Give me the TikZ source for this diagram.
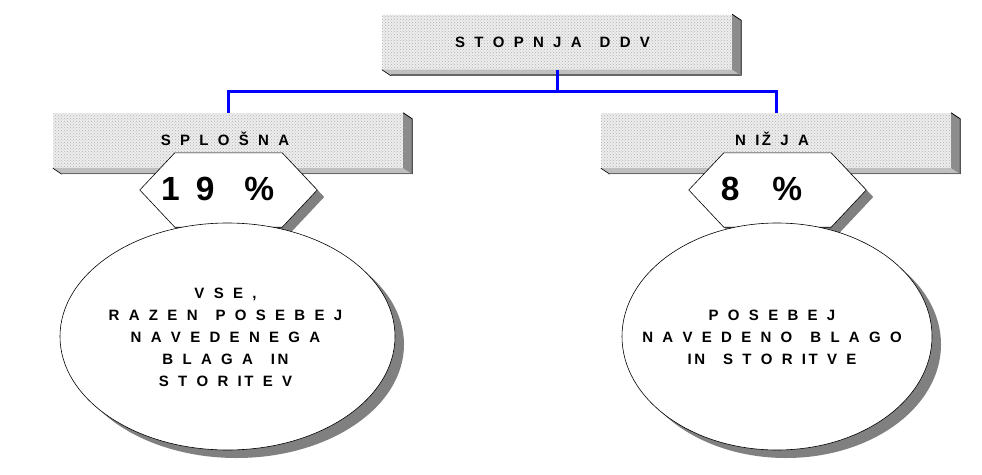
\documentclass[tikz,border=0pt]{standalone}
\usepackage{fontspec}
\setmainfont{Liberation Sans}
\usetikzlibrary{calc,shapes.geometric,shadows,patterns}
\definecolor{boxfill}{gray}{0.93}
\definecolor{linkblue}{RGB}{0,0,255}
\newcommand\wgap{\hspace{18pt}}
\newcommand\widespaces{\spaceskip=9.3pt\relax}
\newcommand\ik{\kern2.5pt}
\newcommand\bevelbox[1]{%
  \fill[black!25] (#1.south west) -- (#1.south east) -- ($(#1.south east)+(9,6)$) -- ($(#1.south west)+(9,6)$) -- cycle;
  \draw[black!60,line width=1.6pt] ($(#1.south west)+(9,5.2)$) -- ($(#1.south east)+(9,5.2)$);
  \draw[black,line width=0.6pt] (#1.south west) -- ($(#1.south west)+(9,6)$);
  \fill[black!45] (#1.north east) -- ($(#1.north east)+(9,6)$) -- ($(#1.south east)+(9,6)$) -- (#1.south east) -- cycle;
  \draw[black,line width=0.8pt] (#1.north east) -- ($(#1.north east)+(9,6)$) -- ($(#1.south east)+(9,6)$);
}
\tikzset{
  boxnode/.style={rectangle, fill=boxfill, draw=none, minimum width=350pt, minimum height=55pt, inner sep=0pt,
    postaction={pattern=crosshatch dots, pattern color=black!30}},
  label/.style={inner sep=0pt, text height=10.7pt, text depth=0pt,
    font=\bfseries\fontsize{15}{17}\selectfont\widespaces},
  hexbase/.style={rectangle, draw=none, minimum width=177pt, minimum height=74pt, inner sep=0pt},
  hexpath/.style n args={3}{insert path={($(#1.west)+(#2,#3)$) -- ($(#1.north west)+(35+#2,#3)$) -- ($(#1.north east)+(-35+#2,#3)$) -- ($(#1.east)+(#2,#3)$) -- ($(#1.south east)+(-35+#2,#3)$) -- ($(#1.south west)+(35+#2,#3)$) -- cycle}},
  hexshadow/.style={fill=black!50},
  hexface/.style={fill=white, draw=black, line width=0.6pt},
  pct/.style={anchor=base west, inner sep=0pt, font=\bfseries\fontsize{33.5}{36}\selectfont},
  oval/.style={ellipse, fill=white, draw=black, line width=0.6pt, inner sep=0pt, minimum height=227pt,
    drop shadow={shadow xshift=9pt, shadow yshift=-8pt, fill=black!50, opacity=1}},
  ovaltext/.style={align=center, inner sep=0pt,
    font=\bfseries\fontsize{15}{22}\selectfont\widespaces},
  link/.style={draw=linkblue, line width=3pt}
}
\begin{document}
\begin{tikzpicture}[x=1pt,y=-1pt]
\useasboundingbox (0,0) rectangle (982,474);
\fill[white] (0,0) rectangle (982,474);

% boxes
\node[boxnode] (topbox) at (557,42) {};
\bevelbox{topbox}
\node[label] (toplabel) at (552.5,42) {S T O P N J A\wgap D D V};
\node[boxnode] (leftbox) at (228,140.5) {};
\bevelbox{leftbox}
\node[label] (leftlabel) at (225,140.5) {S P L O Š N A};
\node[boxnode] (rightbox) at (776,140.5) {};
\bevelbox{rightbox}
\node[label] (rightlabel) at (772,140.5) {N I\ik Ž J A};

% connectors
\coordinate (bus) at (557,91);
\draw[link] (topbox.south) -- (topbox.south |- bus);
\draw[link] (leftbox.north) -- (leftbox.north |- bus) -- (rightbox.north |- bus) -- (rightbox.north);

% hexagons
\node[hexbase] (hexL) at (228.5,190) {};
\node[hexbase] (hexR) at (777.5,190) {};
\fill[hexshadow, hexpath={hexL}{7}{7}];
\path[hexface, hexpath={hexL}{0}{0}];
\fill[hexshadow, hexpath={hexR}{7}{7}];
\path[hexface, hexpath={hexR}{0}{0}];
\node[pct] (pctL) at (161,200) {1\kern16pt 9\kern30pt\%};
\node[pct] (pctR) at (720.6,200) {8\kern33pt\%};

% ellipses
\node[oval, minimum width=335pt] (ovalL) at (227.5,336.5) {};
\node[ovaltext] (textL) at (225.5,337) {V S E ,\\R A Z E N\wgap P O S E B E J\\N A V E D E N E G A\\B L A G A\wgap I\ik N\\S T O R I\ik T E V};
\node[oval, minimum width=310pt] (ovalR) at (777,336.5) {};
\node[ovaltext] (textR) at (772,337) {P O S E B E J\\N A V E D E N O\wgap B L A G O\\I\ik N\wgap S T O R I\ik T V E};
\end{tikzpicture}
\end{document}
